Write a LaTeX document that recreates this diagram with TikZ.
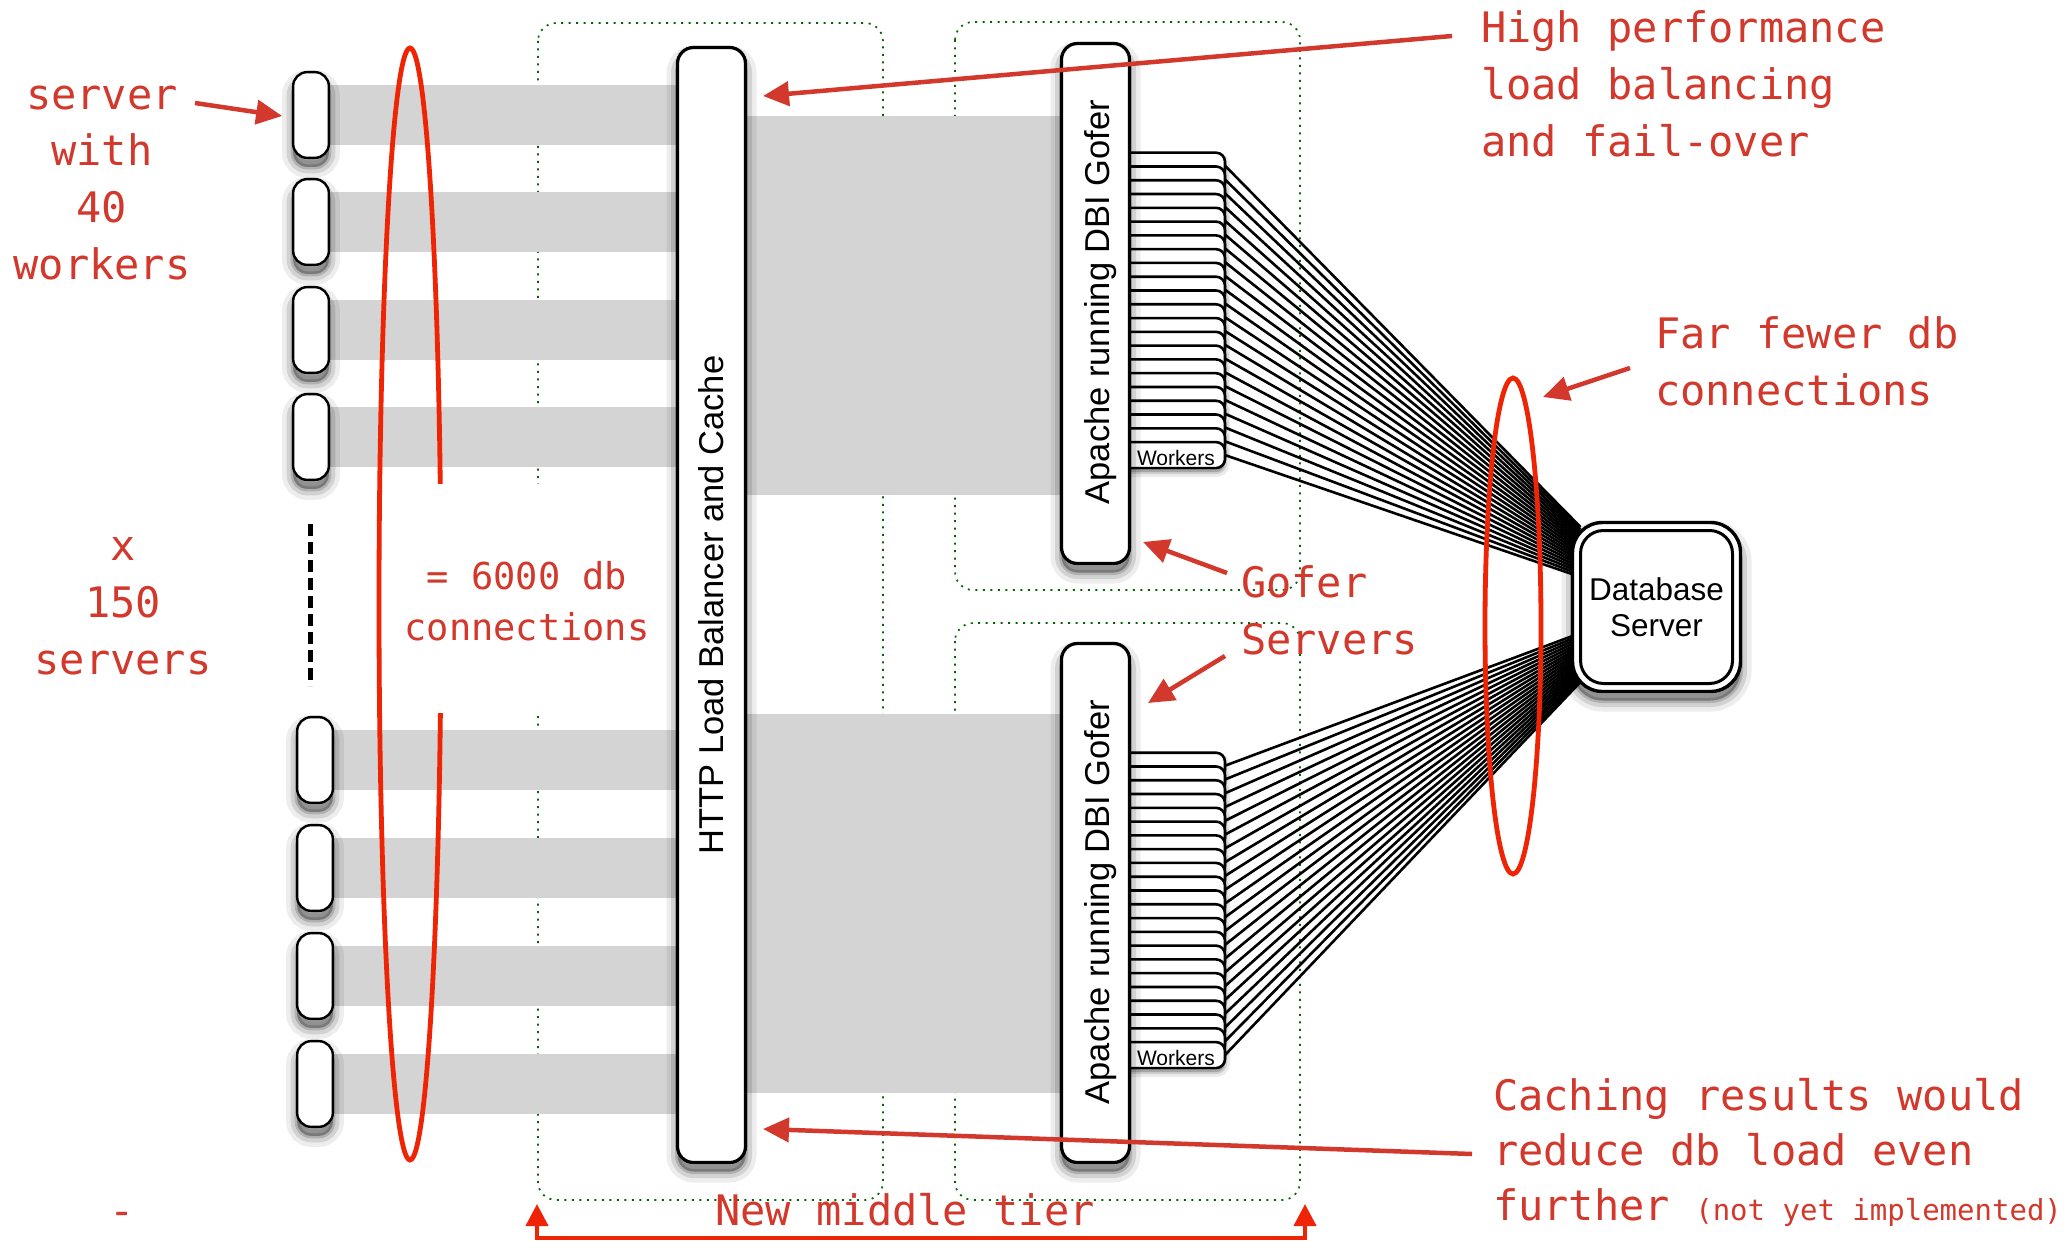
\documentclass[tikz,border=0pt]{standalone}
\usepackage{fontspec}
\setmainfont{Liberation Sans}
\newfontfamily\annotfont{DejaVu Sans Mono}
\usetikzlibrary{arrows.meta,calc,backgrounds}

\definecolor{annot}{RGB}{210,56,44}
\definecolor{hired}{RGB}{238,36,4}
\definecolor{band}{RGB}{212,212,212}
\definecolor{tiergreen}{RGB}{0,100,0}

\begin{document}
\begin{tikzpicture}[x=1pt,y=-1pt,
  every node/.style={inner sep=0pt,outer sep=0pt},
  soft/.style={
    preaction={draw=black,fill=black,opacity=0.07,line width=22pt,transform canvas={yshift=-9pt}},
    preaction={draw=black,fill=black,opacity=0.11,line width=13pt,transform canvas={yshift=-9pt}},
    preaction={draw=black,fill=black,opacity=0.16,line width=5pt,transform canvas={yshift=-9pt}}},
  smallsoft/.style={
    preaction={draw=black,fill=black,opacity=0.08,line width=10pt,transform canvas={yshift=-4pt}},
    preaction={draw=black,fill=black,opacity=0.12,line width=4pt,transform canvas={yshift=-4pt}}},
  srvbox/.style={draw,line width=2.4pt,fill=white,rounded corners=14pt,minimum width=35.7pt,minimum height=85.7pt,soft},
  tallbox/.style={draw,line width=3.2pt,fill=white,rounded corners=16pt,minimum width=68pt,soft},
  wkbox/.style={draw,line width=2.6pt,fill=white,rounded corners=9pt,minimum width=125pt,minimum height=26pt,anchor=north west,smallsoft},
  wire/.style={line width=2.6pt},
  dbbox/.style={draw,line width=3.4pt,fill=white,rounded corners=30pt,
    minimum width=168pt,minimum height=169pt,soft,align=center,font=\fontsize{31.5}{36}\selectfont},
  dbinner/.style={draw,line width=3pt,rounded corners=23pt},
  tier/.style={draw=tiergreen,line width=1.7pt,dash pattern=on 2pt off 5.5pt,rounded corners=18pt},
  bandline/.style={draw=band,line width=60pt},
  ann/.style={text=annot,font=\annotfont\fontsize{42}{57}\selectfont},
  annarrow/.style={draw=annot,line width=4.5pt,-{Triangle[length=26pt,width=24pt]}},
  ring/.style={draw=hired,line width=4.8pt},
  sanslbl/.style={font=\fontsize{34.5}{40}\selectfont},
  wklbl/.style={font=\fontsize{21}{24}\selectfont,anchor=base west},
]
\useasboundingbox (0,0) rectangle (2070,1241);

% worker stacks
\foreach \i in {1,...,22}{
  \node[wkbox] (wt\i) at (1100,{152.7+13.78*(\i-1)}) {};
}
\foreach \i in {1,...,22}{
  \node[wkbox] (wb\i) at (1100,{752.7+13.78*(\i-1)}) {};
}
\node[wklbl] (wlt) at (1137,465) {Workers};
\node[wklbl] (wlb) at (1137,1065) {Workers};

% gofer servers and load balancer
\node[tallbox,minimum height=520pt] (g1) at (1095.5,303.5) {};
\node[tallbox,minimum height=519pt] (g2) at (1095.5,903) {};
\node[tallbox,minimum height=1115pt] (lb) at (711.5,605) {};
\node[sanslbl,rotate=90] (lbt) at (lb.center) {HTTP Load Balancer and Cache};
\node[sanslbl,rotate=90,anchor=base] (g1t) at (1109.5,302) {Apache running DBI Gofer};
\node[sanslbl,rotate=90,anchor=base] (g2t) at (1109.5,902) {Apache running DBI Gofer};

% web servers
\foreach \y [count=\k] in {115,222,330,437}
  \node[srvbox] (s\k) at (311,\y) {};
\foreach \y [count=\k from 5] in {760,868,976,1084}
  \node[srvbox] (s\k) at (315,\y) {};

% database
\node[dbbox] (db) at (1656.5,607) {Database\\Server};
\draw[dbinner] ($(db.north west)+(8,8)$) rectangle ($(db.south east)+(-8,-8)$);

\begin{scope}[on background layer]
  \fill[white] (0,0) rectangle (2070,1241);
  \draw[tier] (538,23) rectangle (883,1200);
  \draw[tier] (955,22) rectangle (1300,590);
  \draw[tier] (955,623) rectangle (1300,1200);
  \foreach \k in {1,...,8}
    \draw[bandline] (s\k.center) -- (s\k.center -| lb.west);
  \fill[band] (747,116) rectangle (1060,495);
  \fill[band] (747,714) rectangle (1060,1093);
  \foreach \i in {1,...,22}{
    \draw[wire] (wt\i.east) -- ($(db.west)+(8,{-80+2.38*(\i-1)})$);
    \draw[wire] (wb\i.east) -- ($(db.west)+(8,{26+2.33*(\i-1)})$);
  }
\end{scope}

% red rings and cut-out for the label
\draw[ring] (410,604) ellipse [x radius=31,y radius=556];
\fill[white] (421,484) rectangle (664,713);
\draw[ring] (1513,626) ellipse [x radius=28,y radius=248];

% "more servers" dashed line
\draw[line width=5pt,dash pattern=on 12pt off 6pt] (310,524) -- (310,686);

% annotations (anchor base = baseline of the last line)
\node[ann,align=center,anchor=base] (tsrv) at (102,280) {server\\with\\40\\workers};
\node[ann,align=center,anchor=base] (tx) at (123,674) {x\\150\\servers};
\node[ann,anchor=base] (tdash) at (122,1225) {-};
\node[ann,font=\annotfont\fontsize{37}{51}\selectfont,align=center,anchor=base] (tcon) at (527,640) {= 6000 db\\connections};
\node[ann,align=left,anchor=base west] (thp) at (1481,157) {High performance\\load balancing\\and fail-over};
\node[ann,align=left,anchor=base west] (tfar) at (1655,405) {Far fewer db\\connections};
\node[ann,align=left,anchor=base west] (tgof) at (1241,654) {Gofer\\Servers};
\node[ann,font=\annotfont\fontsize{42}{55}\selectfont,align=left,anchor=base west] (tcache) at (1493,1220)
  {Caching results would\\reduce db load even\\further {\fontsize{29}{55}\selectfont(not yet implemented)}};
\node[ann,anchor=base] (tnew) at (905,1225) {New middle tier};

% annotation arrows
\coordinate (srvS) at (195,103);
\coordinate (srvE) at ($(s1.west)+(-11,1)$);
\draw[annarrow] (srvS) -- (srvE);
\coordinate (hpS) at (1452,36);
\coordinate (hpE) at (763,96);
\draw[annarrow] (hpS) -- (hpE);
\coordinate (farS) at (1630,368);
\coordinate (farE) at (1543,397);
\draw[annarrow] (farS) -- (farE);
\coordinate (gofS) at (1227,573);
\coordinate (gofE) at (1143,542);
\draw[annarrow] (gofS) -- (gofE);
\coordinate (svS) at (1225,656);
\coordinate (svE) at (1148,703);
\draw[annarrow] (svS) -- (svE);
\coordinate (caS) at (1472,1154);
\coordinate (caE) at (763,1129);
\draw[annarrow] (caS) -- (caE);

% middle tier bracket
\coordinate (brL) at (537,1204);
\coordinate (brR) at (1305,1204);
\draw[hired,line width=4pt,{Triangle[length=22pt,width=22pt]}-{Triangle[length=22pt,width=22pt]}]
  (brL) -- ++(0,34) -| (brR);
\end{tikzpicture}
\end{document}
